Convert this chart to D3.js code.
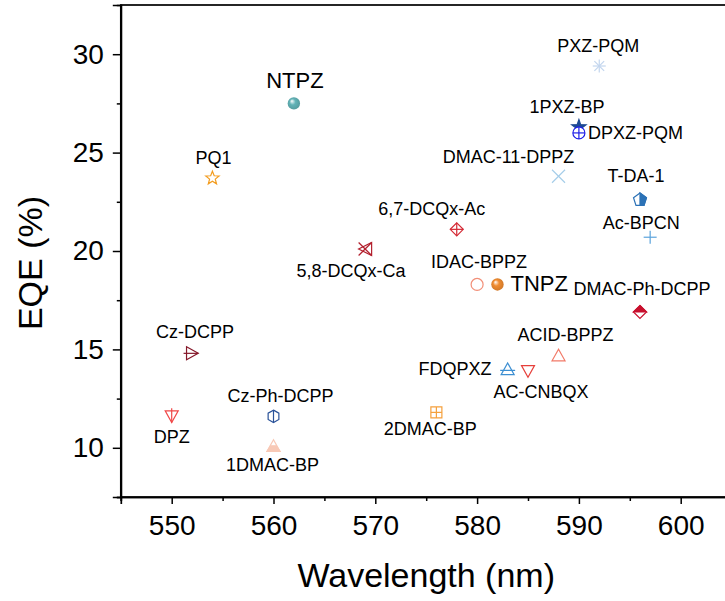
<!DOCTYPE html>
<html>
<head>
<meta charset="utf-8">
<script src="https://cdn.jsdelivr.net/npm/d3@7"></script>
<style>
    body { margin: 0; background: #fff; }
    text { font-family: "Liberation Sans", Arial, sans-serif; fill: #000; }
</style>
</head>
<body>
<div id="graphic"></div>
<script>
// data
const compounds = ["NTPZ", "PQ1", "5,8-DCQx-Ca", "6,7-DCQx-Ac", "PXZ-PQM", "1PXZ-BP", "DPXZ-PQM",
    "DMAC-11-DPPZ", "T-DA-1", "Ac-BPCN", "IDAC-BPPZ", "TNPZ", "DMAC-Ph-DCPP", "ACID-BPPZ",
    "FDQPXZ", "AC-CNBQX", "2DMAC-BP", "Cz-DCPP", "DPZ", "Cz-Ph-DCPP", "1DMAC-BP"]
const wavelength = [562, 554, 569, 578, 592, 590, 590, 588, 596, 597, 580, 582, 596, 588,
    583, 585, 576, 552, 550, 560, 560]
const eqe = [27.5, 23.7, 20.1, 21.1, 29.4, 26.3, 26.0, 23.8, 22.6, 20.7, 18.3, 18.3, 16.9, 14.7,
    14.0, 13.9, 11.8, 14.8, 11.6, 11.6, 10.1]
const xTicks = [550, 560, 570, 580, 590, 600]
const yTicks = [10, 15, 20, 25, 30]
const xMinor = [545, 555, 565, 575, 585, 595, 605]
const yMinor = [7.5, 12.5, 17.5, 22.5, 27.5]

// marker look: [shape, colour]
const markerStyle = {
    "NTPZ": ["sphere", "#62b3b7"],
    "PQ1": ["openStar", "#f39c1e"],
    "5,8-DCQx-Ca": ["triLeftX", "#b3202e"],
    "6,7-DCQx-Ac": ["diamondPlus", "#d42a35"],
    "PXZ-PQM": ["asterisk", "#c3d6ee"],
    "1PXZ-BP": ["filledStar", "#1d4a94"],
    "DPXZ-PQM": ["circlePlus", "#1f1fe8"],
    "DMAC-11-DPPZ": ["cross", "#a5cde9"],
    "T-DA-1": ["pentagonHalf", "#2c72b6"],
    "Ac-BPCN": ["plus", "#5ba3dc"],
    "IDAC-BPPZ": ["openCircle", "#f28f78"],
    "TNPZ": ["sphere", "#f08c30"],
    "DMAC-Ph-DCPP": ["diamondHalf", "#c8102e"],
    "ACID-BPPZ": ["triUp", "#f27a68"],
    "FDQPXZ": ["triUpBar", "#3d8fd2"],
    "AC-CNBQX": ["triDown", "#e6403b"],
    "2DMAC-BP": ["squarePlus", "#f5a03c"],
    "Cz-DCPP": ["triRightBar", "#85182a"],
    "DPZ": ["triDownBar", "#f04848"],
    "Cz-Ph-DCPP": ["hexBar", "#2a5299"],
    "1DMAC-BP": ["triUpHalf", "#f8c9b6"]
}

// label placement: [dx, dy, anchor, size]
const labelPlace = {
    "NTPZ": [1, -15, "middle", 22],
    "PQ1": [1, -14, "middle", 18],
    "5,8-DCQx-Ca": [-14, 28, "middle", 18],
    "6,7-DCQx-Ac": [-25, -14, "middle", 18],
    "PXZ-PQM": [-1, -14, "middle", 18],
    "1PXZ-BP": [-12, -14, "middle", 18],
    "DPXZ-PQM": [9, 6, "start", 18],
    "DMAC-11-DPPZ": [-50, -13, "middle", 18],
    "T-DA-1": [-4, -18, "middle", 18],
    "Ac-BPCN": [-9, -8, "middle", 18],
    "IDAC-BPPZ": [2, -16, "middle", 18],
    "TNPZ": [13, 7, "start", 22],
    "DMAC-Ph-DCPP": [2, -17, "middle", 18],
    "ACID-BPPZ": [7, -14, "middle", 18],
    "FDQPXZ": [-16, 6, "end", 18],
    "AC-CNBQX": [13, 27, "middle", 18],
    "2DMAC-BP": [-6, 23, "middle", 18],
    "Cz-DCPP": [3, -15, "middle", 18],
    "DPZ": [0, 27, "middle", 18],
    "Cz-Ph-DCPP": [7, -14, "middle", 18],
    "1DMAC-BP": [-1, 25, "middle", 18]
}

const points = compounds.map((c, i) => ({ name: c, x: wavelength[i], y: eqe[i] }))

const margin = { top: 5, left: 120.8, bottom: 104 }
const totalWidth = 725
const totalHeight = 601
const height = totalHeight - margin.top - margin.bottom

let x = d3.scaleLinear().domain([545, 605]).range([0, 610.8])
let y = d3.scaleLinear().domain([7.5, 32.5]).range([height, 0])

let svg = d3.select("#graphic").append("svg")
    .attr("width", totalWidth)
    .attr("height", totalHeight)

let defs = svg.append("defs")

let chart = svg.append("g")
    .attr("transform", "translate(" + margin.left + "," + margin.top + ")")

// frame
chart.append("rect")
    .attr("x", 0).attr("y", 0)
    .attr("width", x.range()[1]).attr("height", height)
    .attr("fill", "none").attr("stroke", "#000").attr("stroke-width", 1.7)

function styleAxis(g) {
    g.select(".domain").attr("stroke", "#000").attr("stroke-width", 1.7)
    g.selectAll(".tick line").attr("stroke", "#000").attr("stroke-width", 1.5)
    g.selectAll("text").style("font-size", "28px").attr("fill", "#000")
        .style("font-family", "Liberation Sans, Arial, sans-serif")
}

chart.append("g")
    .attr("transform", "translate(0," + height + ")")
    .call(d3.axisBottom(x).tickValues(xMinor).tickSize(4).tickFormat(""))
    .call(styleAxis)
chart.append("g")
    .attr("transform", "translate(0," + height + ")")
    .call(d3.axisBottom(x).tickValues(xTicks).tickSize(7).tickPadding(11).tickFormat(d3.format("d")))
    .call(styleAxis)

chart.append("g")
    .call(d3.axisLeft(y).tickValues(yMinor).tickSize(4).tickFormat(""))
    .call(styleAxis)
chart.append("g")
    .call(d3.axisLeft(y).tickValues(yTicks).tickSize(8).tickPadding(9).tickFormat(d3.format("d")))
    .call(styleAxis)

// axis titles
svg.append("text")
    .attr("x", margin.left + 305.4)
    .attr("y", 587)
    .attr("text-anchor", "middle")
    .style("font-size", "34px")
    .text("Wavelength (nm)")

svg.append("text")
    .attr("transform", "translate(42,263) rotate(-90)")
    .attr("text-anchor", "middle")
    .style("font-size", "34px")
    .text("EQE (%)")

// marker helpers
function poly(pts) {
    return "M" + pts.map(p => p[0].toFixed(2) + "," + p[1].toFixed(2)).join("L") + "Z"
}
function starPts(R, r) {
    let pts = []
    for (let k = 0; k < 10; k++) {
        let a = -Math.PI / 2 + k * Math.PI / 5
        let rad = k % 2 === 0 ? R : r
        pts.push([rad * Math.cos(a), rad * Math.sin(a)])
    }
    return pts
}
function ngon(n, R, rot) {
    let pts = []
    for (let k = 0; k < n; k++) {
        let a = rot + k * 2 * Math.PI / n
        pts.push([R * Math.cos(a), R * Math.sin(a)])
    }
    return pts
}
function line(g, x1, y1, x2, y2, c) {
    g.append("line").attr("x1", x1).attr("y1", y1).attr("x2", x2).attr("y2", y2)
        .attr("stroke", c).attr("stroke-width", 1.2)
}
function shape(g, d, fill, c) {
    g.append("path").attr("d", d).attr("fill", fill).attr("stroke", c)
        .attr("stroke-width", 1.2).attr("stroke-linejoin", "miter")
}

const h = 6.5
const triUp = [[-h, h * 0.85], [h, h * 0.85], [0, -h * 0.95]]
const triDown = [[-h, -h * 0.85], [h, -h * 0.85], [0, h * 0.95]]

function drawMarker(g, d) {
    let [type, c] = markerStyle[d.name]
    switch (type) {
        case "sphere": {
            let id = "grad" + d.name
            let grad = defs.append("radialGradient").attr("id", id)
                .attr("cx", "0.5").attr("cy", "0.5").attr("r", "0.6")
                .attr("fx", "0.33").attr("fy", "0.3")
            grad.append("stop").attr("offset", "0").attr("stop-color", "#ffffff")
            grad.append("stop").attr("offset", "0.4").attr("stop-color", c)
            grad.append("stop").attr("offset", "1").attr("stop-color", d3.color(c).darker(0.5))
            g.append("circle").attr("r", 6.2).attr("fill", "url(#" + id + ")")
            break
        }
        case "openStar":
            shape(g, poly(starPts(7, 3)), "#fff", c)
            break
        case "filledStar":
            shape(g, poly(starPts(7.5, 3)), c, c)
            break
        case "triLeftX":
            shape(g, poly([[h, -h], [h, h], [-h, 0]]), "none", c)
            line(g, -h, -h, h, h, c)
            line(g, -h, h, h, -h, c)
            break
        case "diamondPlus":
            shape(g, poly([[0, -h], [h, 0], [0, h], [-h, 0]]), "#fff", c)
            line(g, -h, 0, h, 0, c)
            line(g, 0, -h, 0, h, c)
            break
        case "asterisk":
            line(g, -h, 0, h, 0, c)
            line(g, 0, -h, 0, h, c)
            line(g, -h * 0.75, -h * 0.75, h * 0.75, h * 0.75, c)
            line(g, -h * 0.75, h * 0.75, h * 0.75, -h * 0.75, c)
            break
        case "circlePlus":
            g.append("circle").attr("r", h - 0.5).attr("fill", "#fff")
                .attr("stroke", c).attr("stroke-width", 1.2)
            line(g, -h + 0.5, 0, h - 0.5, 0, c)
            line(g, 0, -h + 0.5, 0, h - 0.5, c)
            break
        case "cross":
            line(g, -h, -h, h, h, c)
            line(g, -h, h, h, -h, c)
            break
        case "pentagonHalf": {
            let p = ngon(5, h + 0.3, -Math.PI / 2)
            shape(g, poly(p), "#fff", c)
            shape(g, poly([[0, p[0][1]], p[1], p[2], [0, p[2][1]]]), c, c)
            break
        }
        case "plus":
            line(g, -h, 0, h, 0, c)
            line(g, 0, -h, 0, h, c)
            break
        case "openCircle":
            g.append("circle").attr("r", h - 0.5).attr("fill", "#fff")
                .attr("stroke", c).attr("stroke-width", 1.2)
            break
        case "diamondHalf":
            shape(g, poly([[0, -h], [h, 0], [0, h], [-h, 0]]), "#fff", c)
            shape(g, poly([[-h, 0], [0, -h], [h, 0]]), c, c)
            break
        case "triUp":
            shape(g, poly(triUp), "#fff", c)
            break
        case "triUpBar":
            shape(g, poly(triUp), "#fff", c)
            line(g, -h - 1, h * 0.2, h + 1, h * 0.2, c)
            break
        case "triDown":
            shape(g, poly(triDown), "#fff", c)
            break
        case "squarePlus":
            shape(g, poly([[-h + 1, -h + 1], [h - 1, -h + 1], [h - 1, h - 1], [-h + 1, h - 1]]), "#fff", c)
            line(g, -h + 1, 0, h - 1, 0, c)
            line(g, 0, -h + 1, 0, h - 1, c)
            break
        case "triRightBar":
            shape(g, poly([[-h * 0.85, -h], [-h * 0.85, h], [h * 0.95, 0]]), "#fff", c)
            line(g, -h - 2, 0, h * 0.95, 0, c)
            break
        case "triDownBar":
            shape(g, poly(triDown), "#fff", c)
            line(g, 0, -h - 1.5, 0, h * 0.95, c)
            break
        case "hexBar":
            shape(g, poly(ngon(6, h - 0.3, -Math.PI / 2)), "#fff", c)
            line(g, 0, -h + 0.3, 0, h - 0.3, c)
            break
        case "triUpHalf":
            shape(g, poly(triUp), "#fff", c)
            shape(g, poly([[-h, h * 0.85], [h, h * 0.85], [h * 0.45, 0], [-h * 0.45, 0]]), c, c)
            break
    }
}

let marks = chart.selectAll(null)
    .data(points)
    .enter().append("g")
    .attr("transform", d => "translate(" + x(d.x) + "," + y(d.y) + ")")
    .each(function (d) { drawMarker(d3.select(this), d) })

let labels = chart.selectAll(null)
    .data(points)
    .enter().append("text")
    .attr("x", d => x(d.x) + labelPlace[d.name][0])
    .attr("y", d => y(d.y) + labelPlace[d.name][1])
    .attr("text-anchor", d => labelPlace[d.name][2])
    .style("font-size", d => labelPlace[d.name][3] + "px")
    .text(d => d.name)
</script>
</body>
</html>
